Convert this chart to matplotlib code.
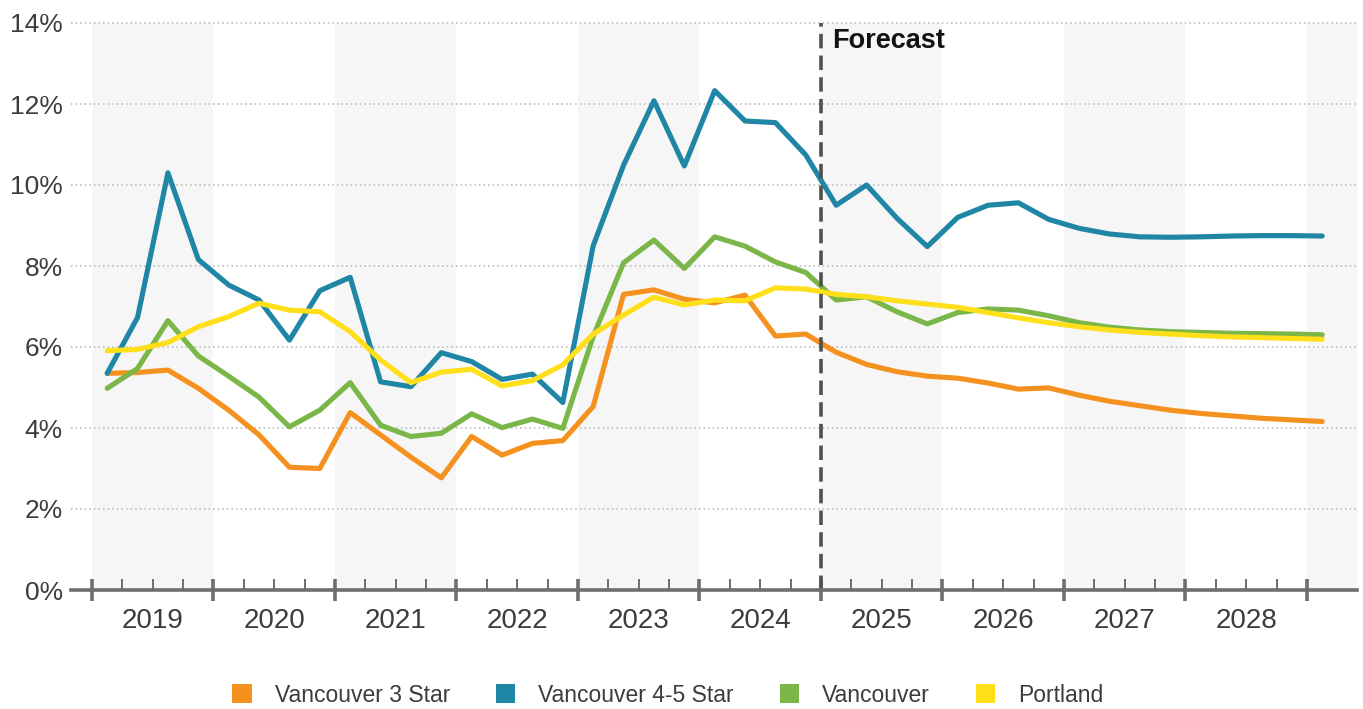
import numpy as np
import matplotlib
matplotlib.use("Agg")
import matplotlib.pyplot as plt
from matplotlib.patches import Patch
from matplotlib.ticker import FixedLocator, FuncFormatter
import matplotlib.transforms as mtransforms

plt.rcParams['font.family'] = ['Liberation Sans', 'DejaVu Sans']

# Quarterly vacancy rates (%), 2019 Q1 through 2029 Q1
quarters = np.arange(41)
years = list(range(2019, 2029))
forecast_start = 2025

vancouver_3_star = [5.35, 5.37, 5.43, 4.98, 4.44, 3.83, 3.03, 3.00, 4.38, 3.83,
                    3.28, 2.77, 3.79, 3.33, 3.62, 3.69, 4.53, 7.30, 7.41, 7.18,
                    7.09, 7.28, 6.27, 6.32, 5.87, 5.57, 5.39, 5.28, 5.23, 5.11,
                    4.96, 4.99, 4.81, 4.66, 4.55, 4.44, 4.36, 4.30, 4.24, 4.20,
                    4.16]
vancouver_45_star = [5.35, 6.73, 10.30, 8.16, 7.53, 7.16, 6.17, 7.39, 7.72, 5.14,
                     5.02, 5.86, 5.64, 5.20, 5.33, 4.63, 8.50, 10.49, 12.08, 10.47,
                     12.33, 11.58, 11.54, 10.74, 9.50, 10.00, 9.18, 8.48, 9.20, 9.50,
                     9.56, 9.15, 8.93, 8.79, 8.72, 8.71, 8.72, 8.74, 8.75, 8.75,
                     8.74]
vancouver = [4.98, 5.47, 6.65, 5.78, 5.28, 4.76, 4.03, 4.44, 5.12, 4.07,
             3.79, 3.87, 4.35, 4.01, 4.22, 3.99, 6.26, 8.08, 8.64, 7.94,
             8.72, 8.49, 8.10, 7.84, 7.16, 7.24, 6.87, 6.57, 6.85, 6.94,
             6.91, 6.77, 6.60, 6.49, 6.42, 6.38, 6.36, 6.34, 6.33, 6.32,
             6.30]
portland = [5.91, 5.94, 6.11, 6.50, 6.75, 7.08, 6.91, 6.87, 6.38, 5.68,
            5.12, 5.38, 5.45, 5.04, 5.17, 5.56, 6.32, 6.79, 7.23, 7.04,
            7.16, 7.14, 7.46, 7.43, 7.30, 7.24, 7.14, 7.06, 6.98, 6.85,
            6.72, 6.60, 6.50, 6.42, 6.36, 6.32, 6.28, 6.25, 6.23, 6.21,
            6.19]

series_names = ["Vancouver 3 Star", "Vancouver 4-5 Star", "Vancouver", "Portland"]
series_values = [vancouver_3_star, vancouver_45_star, vancouver, portland]
series_colors = ["#F5921F", "#1F86A6", "#7AB648", "#FFDE1A"]

# each value sits in the middle of its quarter
x = years[0] + (quarters + 0.5) / 4

fig = plt.figure(figsize=(13.63, 7.09), dpi=100)
ax = fig.add_axes([71 / 1363, 119 / 709, (1357 - 71) / 1363, (686 - 119) / 709])

x_left = years[0] - 21 / 121.5
x_right = years[-1] + 1 + 50 / 121.5
ax.set_xlim(x_left, x_right)
ax.set_ylim(0, 14)

# alternating year shading
for yr in list(range(years[0], years[-1] + 2, 2)):
    ax.axvspan(yr, min(yr + 1, x_right), color="#F6F6F6", lw=0, zorder=0)

# dotted horizontal gridlines
for v in range(2, 15, 2):
    ax.axhline(v, color="#B5B5B5", lw=1.1, ls=(0, (1, 2)), zorder=1,
               clip_on=False)

for name, vals, col in zip(series_names, series_values, series_colors):
    ax.plot(x, vals, color=col, lw=3.7, solid_capstyle="round",
            solid_joinstyle="round", zorder=3, label=name)

# forecast divider
ax.axvline(forecast_start, color="#505050", lw=2.6, ls=(0, (4, 2)), zorder=4)
ax.text(forecast_start + 0.095, 14 - 0.12, "Forecast", fontsize=19.5,
        fontweight="bold", color="#111111", ha="left", va="top", zorder=5)

# axes styling
for s in ("top", "right", "left"):
    ax.spines[s].set_visible(False)
ax.spines["bottom"].set_color("#6E6E6E")
ax.spines["bottom"].set_linewidth(2.6)
ax.spines["bottom"].set_zorder(6)

ax.set_yticks(range(0, 15, 2))
ax.yaxis.set_major_formatter(FuncFormatter(lambda v, p: f"{int(v)}%"))
ax.tick_params(axis="y", length=0, pad=6, labelsize=19, labelcolor="#3C3C3C")

year_edges = list(range(years[0], years[-1] + 2))
quarter_edges = [yr + q / 4 for yr in years for q in (1, 2, 3)]
ax.xaxis.set_major_locator(FixedLocator(year_edges))
ax.xaxis.set_minor_locator(FixedLocator(quarter_edges))
ax.tick_params(axis="x", which="major", direction="inout", length=16,
               width=2.6, color="#6E6E6E", labelbottom=False)
ax.tick_params(axis="x", which="minor", direction="in", length=8,
               width=1.4, color="#6E6E6E")

trans = mtransforms.blended_transform_factory(ax.transData, ax.transAxes)
for yr in years:
    ax.text(yr + 0.5, -31 / 567, str(yr), transform=trans, ha="center",
            va="center", fontsize=20, color="#3C3C3C")

handles = [Patch(facecolor=c, edgecolor="none") for c in series_colors]
fig.legend(handles, series_names, loc="center",
           bbox_to_anchor=(668 / 1363, 14 / 709), ncol=4, frameon=False,
           fontsize=16.5, labelcolor="#3C3C3C", handlelength=0.85,
           handleheight=0.85, handletextpad=1.0, columnspacing=2.0)

fig.savefig("out.png", dpi=100)
